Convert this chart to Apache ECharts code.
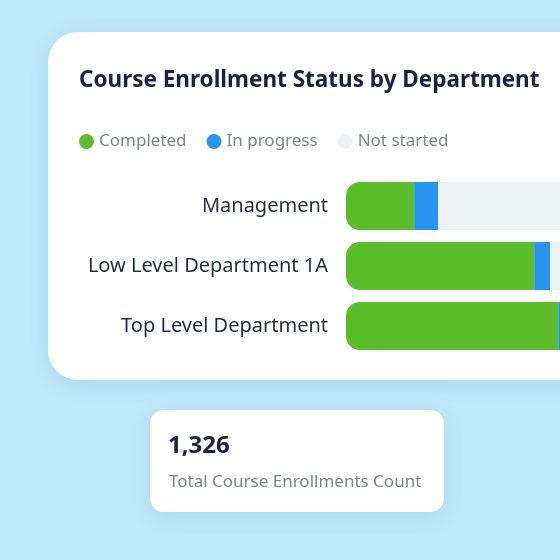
<!DOCTYPE html>
<html>
<head>
<meta charset="utf-8">
<style>
html,body{margin:0;padding:0;background:#bfe8f9;}
#c{width:560px;height:560px;}
</style>
<script src="https://cdn.jsdelivr.net/npm/echarts@6/dist/echarts.min.js"></script>
</head>
<body>
<div id="c"></div>
<script>
var categories = ['Management', 'Low Level Department 1A', 'Top Level Department'];
var completed = [22.7, 62.7, 70.7];
var inProgress = [8, 5.3, 3];
var notStarted = [69.3, 32, 26.3];
var seriesNames = ['Completed', 'In progress', 'Not started'];
var totalCount = '1,326';
var totalLabel = 'Total Course Enrollments Count';
var chartTitle = 'Course Enrollment Status by Department';
var visibleMax = 71.3; // only part of the 100% bar is visible in the cropped card

var FONT = '"Noto Sans", Lato, sans-serif';
var chart = echarts.init(document.getElementById('c'), null, {renderer: 'canvas'});
chart.setOption({
  backgroundColor: '#bfe8f9',
  animation: false,
  graphic: [
    {type: 'rect', z: -10, shape: {x: 48, y: 32, width: 600, height: 348, r: 30},
     style: {fill: '#ffffff', shadowBlur: 20, shadowColor: 'rgba(80,150,190,0.18)', shadowOffsetY: 4}},
    {type: 'rect', z: -10, shape: {x: 150, y: 410, width: 294, height: 102, r: 14},
     style: {fill: '#ffffff', shadowBlur: 20, shadowColor: 'rgba(80,150,190,0.18)', shadowOffsetY: 4}},
    {type: 'text', x: 168, y: 446, style: {text: totalCount, fill: '#17204a', font: 'bold 24px ' + FONT, verticalAlign: 'middle'}},
    {type: 'text', x: 169, y: 482, style: {text: totalLabel, fill: '#7b858e', font: '17px ' + FONT, verticalAlign: 'middle'}}
  ],
  title: {
    text: chartTitle, left: 74, top: 64,
    textStyle: {fontFamily: FONT, fontWeight: 'bold', fontSize: 22.5, color: '#17204a'}
  },
  legend: {
    left: 74, top: 128, icon: 'circle', itemWidth: 15, itemHeight: 15, itemGap: 20,
    data: seriesNames,
    textStyle: {fontFamily: FONT, fontSize: 17, color: '#7b858e'}
  },
  grid: {left: 346, top: 176, right: 0, height: 180, containLabel: false},
  xAxis: {type: 'value', min: 0, max: visibleMax, show: false},
  yAxis: {
    type: 'category', data: categories, inverse: true,
    axisLine: {show: false}, axisTick: {show: false},
    axisLabel: {fontFamily: FONT, fontSize: 20, color: '#1f2a4f', margin: 18}
  },
  series: [
    {name: seriesNames[0], type: 'bar', stack: 's', barWidth: 48, data: completed, clip: true,
     itemStyle: {color: '#5abe2a', borderRadius: [14, 0, 0, 14]}},
    {name: seriesNames[1], type: 'bar', stack: 's', barWidth: 48, data: inProgress, clip: true,
     itemStyle: {color: '#2a95f0'}},
    {name: seriesNames[2], type: 'bar', stack: 's', barWidth: 48, data: notStarted, clip: true,
     itemStyle: {color: '#eef3f5', borderRadius: 0}}
  ]
});
</script>
</body>
</html>
